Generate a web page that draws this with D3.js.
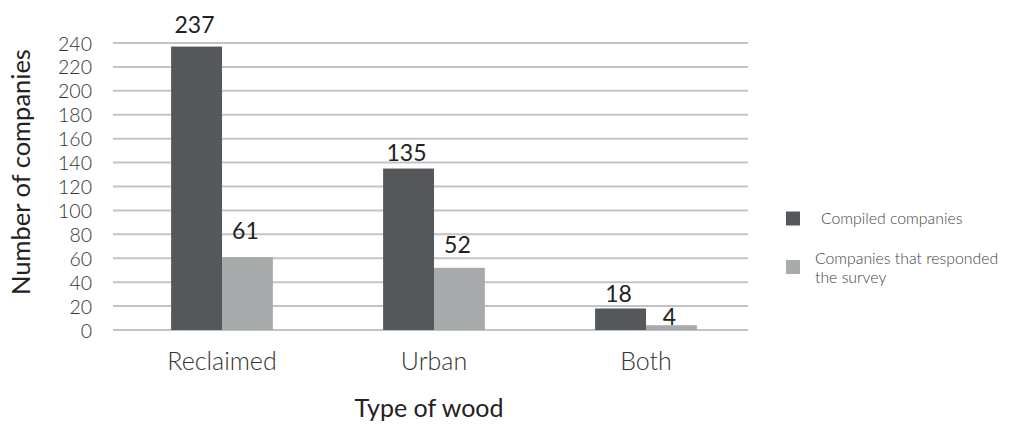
<!DOCTYPE html>
<html>
<head>
<meta charset="utf-8">
<script src="https://cdn.jsdelivr.net/npm/d3@7/dist/d3.min.js"></script>
<style>
  html, body { margin: 0; padding: 0; background: #fff; }
  svg { display: block; font-family: Lato, "Open Sans", sans-serif; }
</style>
</head>
<body>
<svg id="chart" width="1021" height="424"></svg>
<script>
// Companies by type of wood
const categories = ["Reclaimed", "Urban", "Both"];
const seriesNames = ["Compiled companies", "Companies that responded the survey"];
const compiled = [237, 135, 18];
const responded = [61, 52, 4];
const yTicks = [0, 20, 40, 60, 80, 100, 120, 140, 160, 180, 200, 220, 240];

// Layout
const W = 1021, H = 424;
const plot = { left: 113, right: 748, top: 43, bottom: 330 };
const colors = ["#54585a", "#a8abac"];
const FONT = "Lato, 'Open Sans', sans-serif";
// extra lift of each value label above its bar (px), [series][category]
const labelLift = [[14, 8, 6], [18, 15, 0]];

const svg = d3.select("#chart");

const y = d3.scaleLinear().domain([0, 240]).range([plot.bottom, plot.top]);
const x0 = d3.scaleBand().domain(categories).range([plot.left + 3, plot.right + 4]).paddingInner(0.52).paddingOuter(0.26);
const x1 = d3.scaleBand().domain(seriesNames).range([0, x0.bandwidth()]);

// Gridlines
svg.append("g")
  .selectAll("line")
  .data(yTicks)
  .join("line")
  .attr("x1", plot.left).attr("x2", plot.right)
  .attr("y1", d => y(d)).attr("y2", d => y(d))
  .attr("stroke", "#c3c3c5")
  .attr("stroke-width", 2);

// Y axis tick labels
const yAxis = d3.axisLeft(y).tickValues(yTicks).tickSize(0).tickPadding(0);
const gy = svg.append("g").attr("transform", `translate(92,0)`).call(yAxis);
gy.select(".domain").remove();
gy.selectAll("text")
  .attr("font-family", FONT)
  .attr("font-size", 19.5)
  .attr("font-weight", 300)
  .attr("fill", "#333")
  .attr("dy", "0.36em");

// Bars
const series = [compiled, responded];
const barData = [];
series.forEach((vals, s) => vals.forEach((v, c) => barData.push({ s, c, v })));

svg.append("g")
  .selectAll("rect")
  .data(barData)
  .join("rect")
  .attr("x", d => x0(categories[d.c]) + x1(seriesNames[d.s]))
  .attr("y", d => y(d.v))
  .attr("width", x1.bandwidth())
  .attr("height", d => y(0) - y(d.v))
  .attr("fill", d => colors[d.s]);

// Value labels
svg.append("g")
  .selectAll("text")
  .data(barData)
  .join("text")
  .attr("x", d => x0(categories[d.c]) + x1(seriesNames[d.s]) + x1.bandwidth() / 2 - 2)
  .attr("y", d => y(d.v) - labelLift[d.s][d.c])
  .attr("text-anchor", "middle")
  .attr("font-size", 23)
  .attr("fill", "#222")
  .text(d => d.v);

// Category labels
const xAxis = d3.axisBottom(x0).tickSize(0).tickPadding(0);
const gx = svg.append("g").attr("transform", `translate(0,${plot.bottom})`).call(xAxis);
gx.select(".domain").remove();
gx.selectAll("text")
  .attr("font-family", FONT)
  .attr("font-size", 25)
  .attr("font-weight", 300)
  .attr("fill", "#333")
  .attr("dy", 0)
  .attr("y", 40);

// Axis titles
svg.append("text")
  .attr("transform", "translate(30,172) rotate(-90)")
  .attr("text-anchor", "middle")
  .attr("font-size", 25.5)
  .attr("fill", "#222")
  .text("Number of companies");

svg.append("text")
  .attr("x", 429).attr("y", 417)
  .attr("text-anchor", "middle")
  .attr("font-size", 25)
  .attr("fill", "#222")
  .text("Type of wood");

// Legend
const legend = svg.append("g");
legend.append("rect").attr("x", 786).attr("y", 211.5).attr("width", 14).attr("height", 14).attr("fill", colors[0]);
legend.append("text").attr("x", 821).attr("y", 224).attr("font-size", 15.8).attr("font-weight", 300).attr("fill", "#444").text(seriesNames[0]);
legend.append("rect").attr("x", 786).attr("y", 260).attr("width", 14).attr("height", 14).attr("fill", colors[1]);
legend.append("text").attr("x", 815).attr("y", 263.5).attr("font-size", 15.8).attr("font-weight", 300).attr("fill", "#444")
  .selectAll("tspan")
  .data(["Companies that responded", "the survey"])
  .join("tspan")
  .attr("x", 815)
  .attr("dy", (d, i) => i === 0 ? 0 : 19)
  .text(d => d);
</script>
</body>
</html>
